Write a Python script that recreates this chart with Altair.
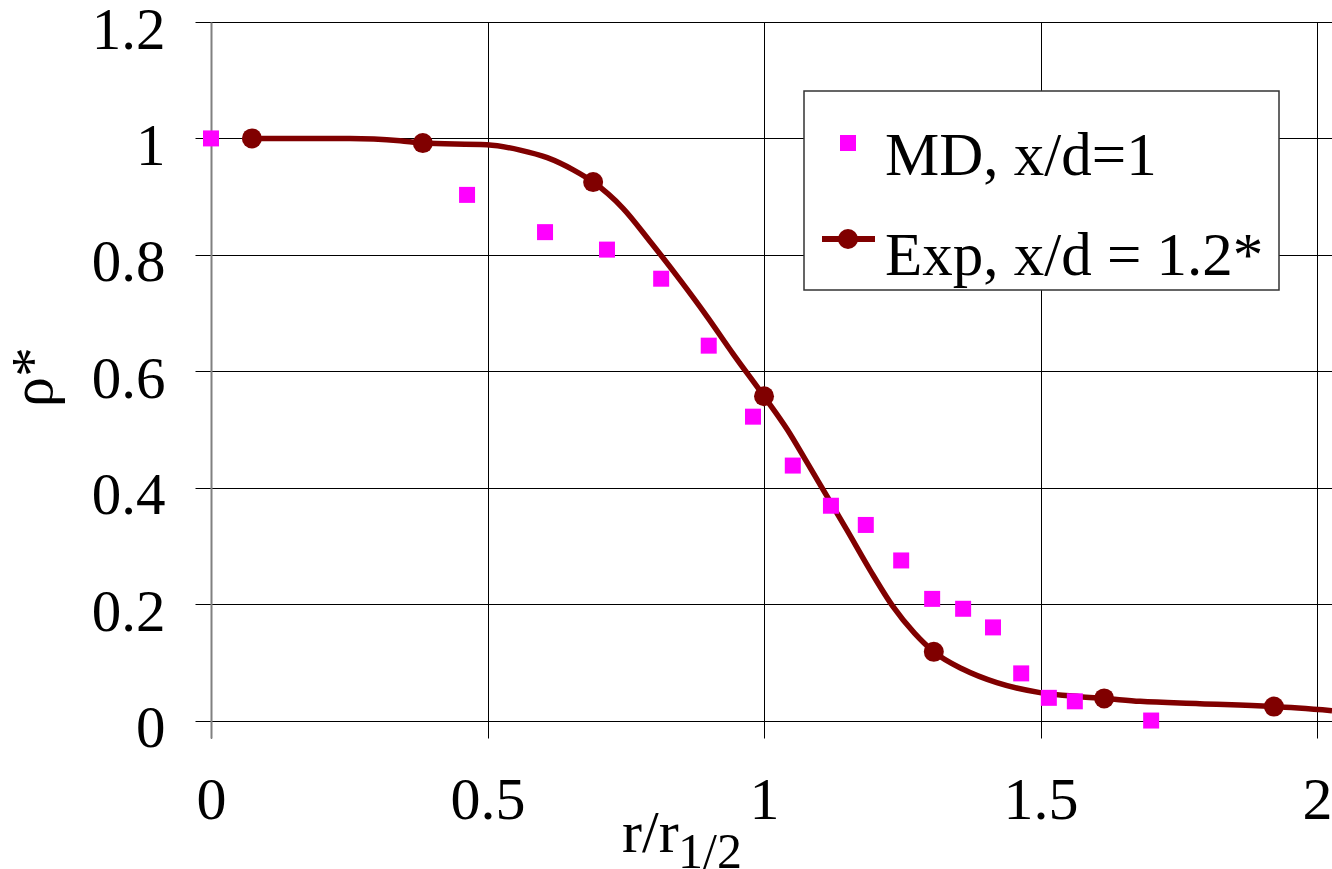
import altair as alt
import pandas as pd

# ---- data ----
# MD, x/d=1 (magenta squares)
md_r = [0.0, 0.463, 0.604, 0.716, 0.814, 0.900, 0.980, 1.052, 1.121, 1.184,
        1.248, 1.304, 1.360, 1.414, 1.465, 1.515, 1.562, 1.700]
md_rho = [1.0, 0.903, 0.839, 0.809, 0.759, 0.644, 0.522, 0.438, 0.369, 0.336,
          0.275, 0.209, 0.192, 0.160, 0.081, 0.039, 0.033, 0.0]

# Exp, x/d = 1.2* (markers)
exp_r = [0.074, 0.383, 0.691, 1.0, 1.307, 1.615, 1.922]
exp_rho = [1.0, 0.992, 0.925, 0.557, 0.118, 0.038, 0.024]

# Exp smooth curve
curve_r = [0.074, 0.161, 0.251, 0.342, 0.383, 0.499, 0.559, 0.608, 0.655, 0.691,
           0.745, 0.794, 0.848, 0.897, 0.944, 1.0, 1.042, 1.078, 1.114, 1.150,
           1.192, 1.233, 1.272, 1.307, 1.360, 1.421, 1.499, 1.571, 1.615, 1.680,
           1.788, 1.922, 2.027]
curve_rho = [1.0, 1.0, 1.0, 0.996, 0.992, 0.989, 0.980, 0.967, 0.946, 0.925,
             0.880, 0.823, 0.757, 0.694, 0.630, 0.557, 0.500, 0.443, 0.385, 0.327,
             0.258, 0.196, 0.150, 0.118, 0.088, 0.065, 0.048, 0.041, 0.038, 0.033,
             0.029, 0.024, 0.017]

x_ticks = [0, 0.5, 1, 1.5, 2]
y_ticks = [0, 0.2, 0.4, 0.6, 0.8, 1.0, 1.2]

legend_labels = ["MD, x/d=1", "Exp, x/d = 1.2*"]

FONT = "Liberation Serif"
MAGENTA = "#FF00FF"
DARKRED = "#800000"

md_df = pd.DataFrame({"r": md_r, "rho": md_rho})
exp_df = pd.DataFrame({"r": exp_r, "rho": exp_rho})
curve_df = pd.DataFrame({"r": curve_r, "rho": curve_rho})
one = pd.DataFrame({"k": [0]})

xs = alt.Scale(domain=[0, 2.027], nice=False, zero=False)
ys = alt.Scale(domain=[-0.03, 1.2], nice=False, zero=False)

x_axis = alt.Axis(values=x_ticks, format="~g", title=None, domain=False, ticks=False,
                  tickSize=0, grid=True, gridColor="#000000", gridWidth=1,
                  labelFont=FONT, labelFontSize=60, labelColor="#000000",
                  labelPadding=33, labelFlush=False, labelOverlap=False)
y_axis = alt.Axis(values=y_ticks, format="~g", title=None, domain=True,
                  domainColor="#808080", domainWidth=2, ticks=True, tickSize=16,
                  tickColor="#000000", tickWidth=1, grid=True, gridColor="#000000",
                  gridWidth=1, labelFont=FONT, labelFontSize=59, labelColor="#000000",
                  labelPadding=30, labelOffset=8, labelFlush=False, labelOverlap=False)

X = alt.X("r:Q", scale=xs, axis=x_axis)
Y = alt.Y("rho:Q", scale=ys, axis=y_axis)

curve = alt.Chart(curve_df).mark_line(color=DARKRED, strokeWidth=5.5,
                                      interpolate="monotone", clip=False).encode(x=X, y=Y)
exp_pts = alt.Chart(exp_df).mark_point(shape="circle", filled=True, opacity=1,
                                       color=DARKRED, size=400).encode(x=X, y=Y)
md_pts = alt.Chart(md_df).mark_point(shape="square", filled=True, opacity=1,
                                     color=MAGENTA, size=256).encode(x=X, y=Y)

# ---- legend (drawn by hand) ----
leg_box = alt.Chart(one).mark_rect(fill="white", stroke="#333333", strokeWidth=1.5).encode(
    x=alt.value(593), x2=alt.value(1068), y=alt.value(69), y2=alt.value(268))
leg_sq = alt.Chart(one).mark_point(shape="square", filled=True, opacity=1, color=MAGENTA,
                                   size=256).encode(x=alt.value(637), y=alt.value(121))
leg_line = alt.Chart(one).mark_rule(color=DARKRED, strokeWidth=6).encode(
    x=alt.value(611), x2=alt.value(664), y=alt.value(217))
leg_circ = alt.Chart(one).mark_point(shape="circle", filled=True, opacity=1, color=DARKRED,
                                     size=400).encode(x=alt.value(637), y=alt.value(217))
leg_t1 = alt.Chart(one).mark_text(font=FONT, fontSize=61, align="left", baseline="alphabetic",
                                  color="#000000").encode(
    x=alt.value(674), y=alt.value(153), text=alt.value(legend_labels[0]))
leg_t2 = alt.Chart(one).mark_text(font=FONT, fontSize=61, align="left", baseline="alphabetic",
                                  color="#000000").encode(
    x=alt.value(674), y=alt.value(253), text=alt.value(legend_labels[1]))

# ---- axis titles ----
y_title = alt.Chart(one).mark_text(font=FONT, fontSize=60, angle=270, align="center",
                                   baseline="alphabetic", color="#000000").encode(
    x=alt.value(-159), y=alt.value(355), text=alt.value("ρ*"))
x_title = alt.Chart(one).mark_text(font=FONT, fontSize=60, align="left",
                                   baseline="alphabetic", color="#000000").encode(
    x=alt.value(411), y=alt.value(830), text=alt.value("r/r"))
x_title_sub = alt.Chart(one).mark_text(font=FONT, fontSize=50, align="left",
                                       baseline="alphabetic", color="#000000").encode(
    x=alt.value(467), y=alt.value(846), text=alt.value("1/2"))

chart = alt.layer(
    curve, exp_pts, md_pts, leg_box, leg_sq, leg_line, leg_circ, leg_t1, leg_t2,
    y_title, x_title, x_title_sub
).properties(
    width=1121, height=716,
    autosize=alt.AutoSizeParams(type="none"),
    padding={"left": 211, "top": 22, "right": 0, "bottom": 131},
    background="white",
).configure_view(strokeWidth=0)

chart.save("out.html", embed_options={"renderer": "svg", "actions": False})
